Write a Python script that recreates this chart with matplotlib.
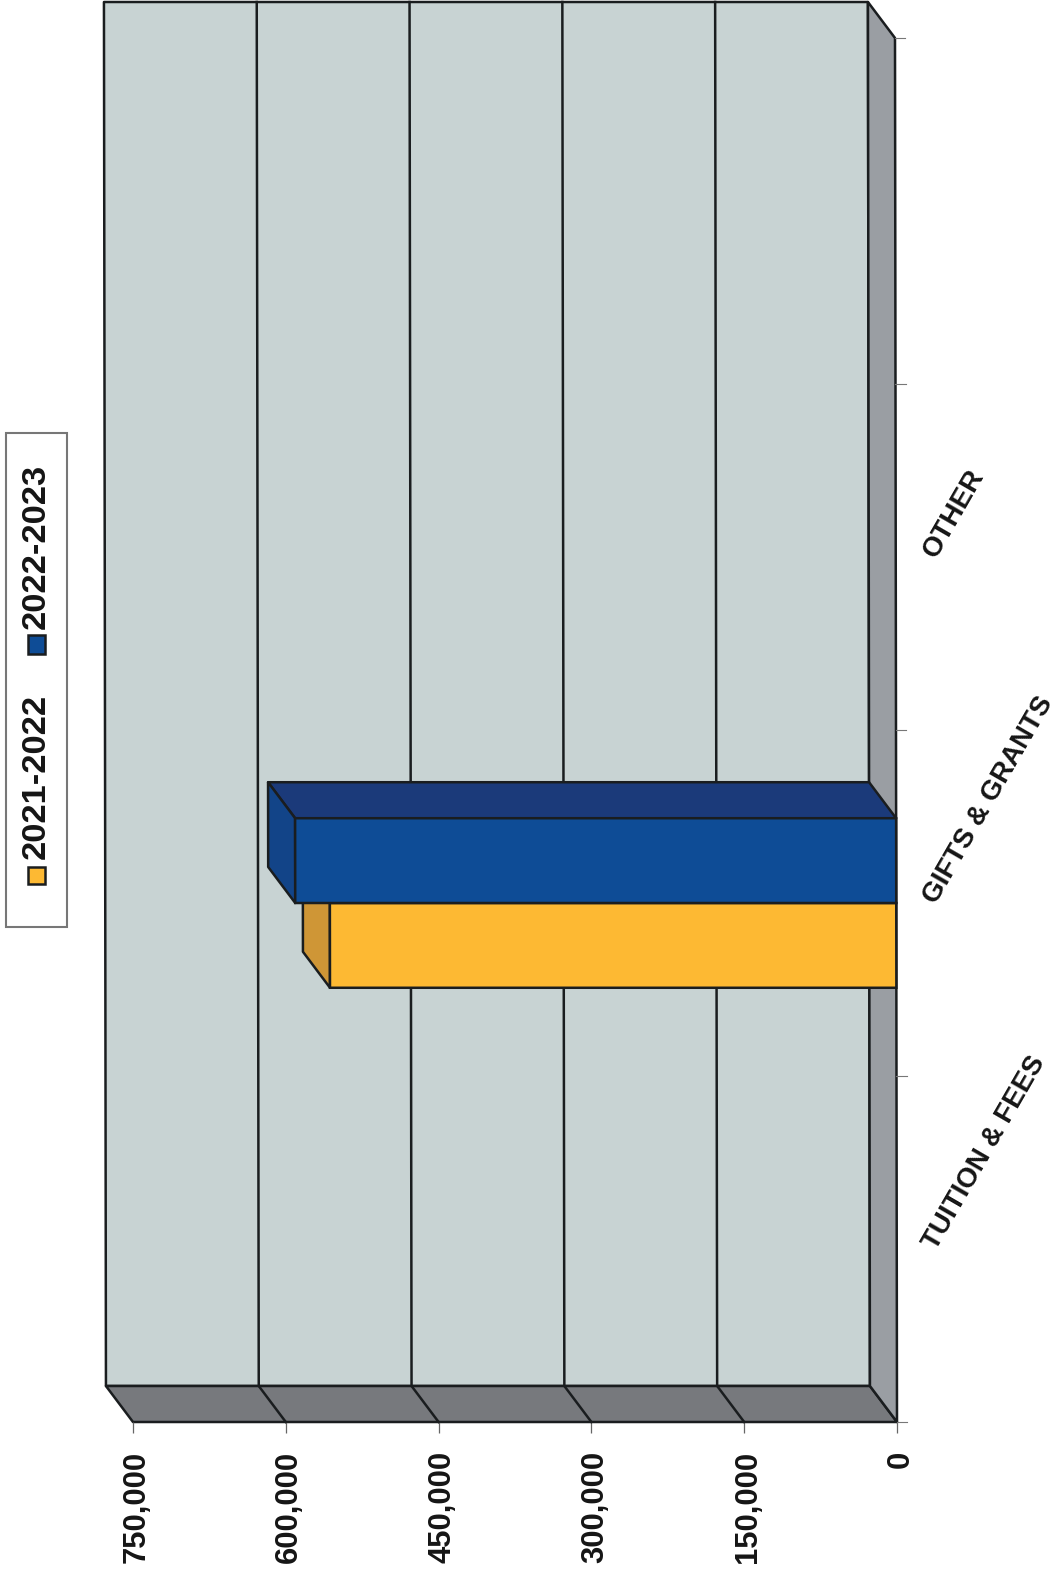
#!/usr/bin/env python3
"""Rotated pseudo-3D bar chart of revenue by category, scanned page style."""

import matplotlib
matplotlib.use("Agg")
import matplotlib.pyplot as plt
from matplotlib.patches import Polygon, Rectangle
from matplotlib.ticker import FuncFormatter
from matplotlib.transforms import Affine2D

# ---------------------------------------------------------------------------
# Data
# ---------------------------------------------------------------------------

categories = ["TUITION & FEES", "GIFTS & GRANTS", "OTHER", ""]
value_ticks = [0, 150000, 300000, 450000, 600000, 750000]
series_names = ["2021-2022", "2022-2023"]
values_2122 = [0, 556000, 0, 0]
values_2223 = [0, 590000, 0, 0]

# ---------------------------------------------------------------------------
# Layout (pixels of the 1060x1577 page)
# ---------------------------------------------------------------------------

W, H = 1060, 1577
DPI = 100
LEFT, RIGHT, TOP, BOTTOM = 133, 897, 38, 1422

DEPTH_V = 27 / (RIGHT - LEFT) * 750000   # depth offset along the value axis
DEPTH_C = 36 / (BOTTOM - TOP) * 4        # depth offset along the category axis
BAR_H = 0.245

INK = "#1a1d1f"
WALL = "#c8d3d3"
FLOOR = "#77797d"
SIDE = "#9a9ea3"
LW = 1.8


def px(size):
    return size * 72 / DPI


plt.rcParams["font.family"] = ["Liberation Sans", "DejaVu Sans"]

fig = plt.figure(figsize=(W / DPI, H / DPI), dpi=DPI, facecolor="white")
ax = fig.add_axes([LEFT / W, 1 - BOTTOM / H, (RIGHT - LEFT) / W, (BOTTOM - TOP) / H])
ax.set_xlim(750000, 0)
ax.set_ylim(0, len(categories))
ax.set_facecolor("none")
for spine in ax.spines.values():
    spine.set_visible(False)

# the scan sits very slightly crooked
skew = ax.transData + Affine2D().translate(0, -(H - BOTTOM)).skew(-0.00145, 0).translate(0, H - BOTTOM)


def back(v, c):
    return (v + DEPTH_V, c + DEPTH_C)


def face(points, color, z):
    ax.add_patch(Polygon(points, closed=True, facecolor=color, edgecolor=INK, linewidth=LW,
                         joinstyle="round", transform=skew, clip_on=False, zorder=z))


vmax = value_ticks[-1]
cmax = len(categories)

# Walls
face([back(0, 0), back(vmax, 0), back(vmax, cmax), back(0, cmax)], WALL, 1)
face([(0, 0), (vmax, 0), back(vmax, 0), back(0, 0)], FLOOR, 1)
face([(0, 0), back(0, 0), back(0, cmax), (0, cmax)], SIDE, 1)

# Gridlines on wall and floor
for v in value_ticks[1:-1]:
    ax.plot([v, back(v, 0)[0], back(v, cmax)[0]], [0, back(v, 0)[1], back(v, cmax)[1]],
            color=INK, lw=LW, transform=skew, clip_on=False, zorder=2)

# Value axis
ax.set_xticks(value_ticks)
ax.xaxis.set_major_formatter(FuncFormatter(lambda v, _: f"{int(v):,}"))
ax.tick_params(axis="x", length=px(11), width=0.9, color="#666666", pad=px(18))
for label in ax.get_xticklabels():
    label.set_rotation(90)
    label.set_rotation_mode("anchor")
    label.set_fontsize(px(31))
    label.set_fontweight("bold")
    label.set_color("#151515")
    label.set_ha("right")
    label.set_va("center_baseline")

# Category axis, ticks at category boundaries
ax.set_yticks([])
for c in range(cmax + 1):
    ax.plot([0, -10000], [c, c], color="#777777", lw=0.8, transform=skew, clip_on=False, zorder=2)
for c, name in enumerate(categories):
    ax.text(-33000, c + 0.505, name, rotation=60, rotation_mode="anchor", ha="left", va="center",
            fontsize=px(27.7), fontweight="bold", color="#151515", transform=skew, clip_on=False)


# Bars
def draw_series(values, shift, front, top, side):
    for c, v in enumerate(values):
        if v <= 0:
            continue
        lo, hi = c + 0.5 + shift - BAR_H / 2, c + 0.5 + shift + BAR_H / 2
        face([(0, hi), (v, hi), back(v, hi), back(0, hi)], top, 4)
        face([(v, lo), (v, hi), back(v, hi), back(v, lo)], side, 4)
        bar = ax.barh(c + 0.5 + shift, v, height=BAR_H, color=front, edgecolor=INK, linewidth=LW, zorder=5)
        for rect in bar:
            rect.set_transform(skew)
            rect.set_clip_on(False)


draw_series(values_2122, -BAR_H / 2, "#fdb933", "#cf9636", "#cf9636")
draw_series(values_2223, BAR_H / 2, "#0e4c96", "#1b3a7a", "#124488")


# Legend, drawn by hand because the whole page is turned on its side
def box(x0, y0, x1, y1, **kw):
    fig.add_artist(Rectangle((x0 / W, 1 - y1 / H), (x1 - x0) / W, (y1 - y0) / H,
                             transform=fig.transFigure, **kw))


box(6, 433, 67, 927, facecolor="white", edgecolor="#777777", linewidth=1.5)
box(28, 867, 45, 884, facecolor="#fdb933", edgecolor=INK, linewidth=1.8)
box(28, 635, 45, 654, facecolor="#0e4c96", edgecolor=INK, linewidth=1.8)
for name, y_start in zip(series_names, [859, 629]):
    fig.text(36 / W, 1 - y_start / H, name, rotation=90, ha="center", va="bottom",
             fontsize=px(34.5), fontweight="bold", color="#151515")

fig.savefig("out.png", dpi=DPI)
